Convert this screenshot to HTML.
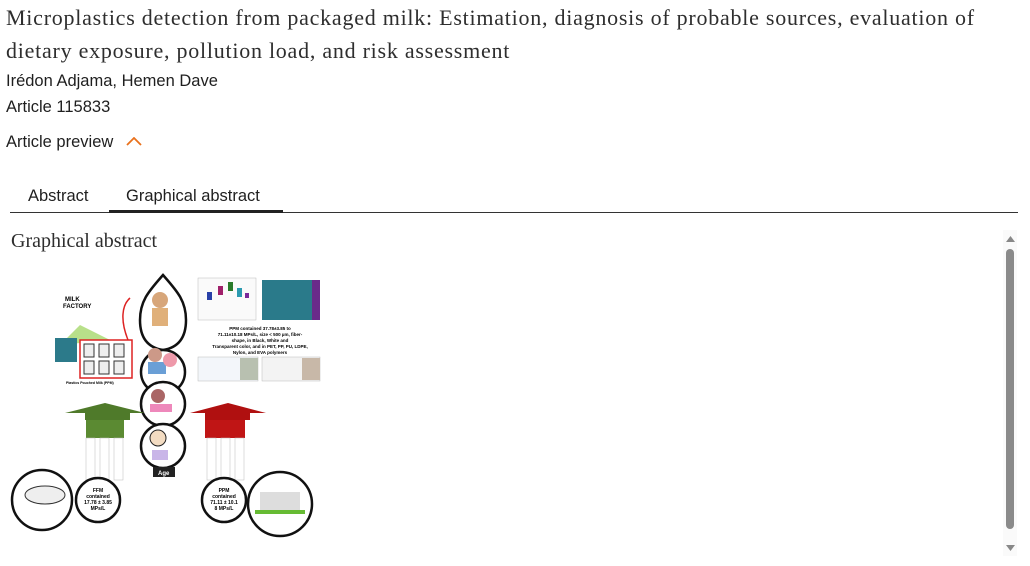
<!DOCTYPE html>
<html><head><meta charset="utf-8"><style>
body{margin:0;width:1030px;height:566px;background:#fff;position:relative;overflow:hidden;font-family:"Liberation Sans",sans-serif;color:#1f1f1f}
.a{position:absolute;white-space:nowrap}
.serif{font-family:"Liberation Serif",serif}
</style></head><body>
<div class="a serif" style="left:6px;top:1px;font-size:22px;letter-spacing:0.75px;line-height:33px;color:#2e2e2e">Microplastics detection from packaged milk: Estimation, diagnosis of probable sources, evaluation of<br>dietary exposure, pollution load, and risk assessment</div>
<div class="a" style="left:6px;top:72px;font-size:16.5px">Irédon Adjama, Hemen Dave</div>
<div class="a" style="left:6px;top:98px;font-size:16.5px">Article 115833</div>
<div class="a" style="left:6px;top:133px;font-size:16.5px">Article preview</div>
<svg class="a" style="left:126px;top:137px" width="16" height="10"><path d="M1 8 L8 1 L15 8" fill="none" stroke="#e9711c" stroke-width="1.8"/></svg>
<div class="a" style="left:28px;top:187px;font-size:16.5px">Abstract</div>
<div class="a" style="left:126px;top:187px;font-size:16.5px">Graphical abstract</div>
<div class="a" style="left:10px;top:212px;width:1008px;height:1px;background:#333"></div>
<div class="a" style="left:109px;top:210px;width:174px;height:3px;background:#222"></div>
<div class="a serif" style="left:11px;top:230px;font-size:20px;color:#2e2e2e">Graphical abstract</div>
<div class="a" style="left:1003px;top:230px;width:14px;height:326px;background:#fafafa"></div>
<div class="a" style="left:1006px;top:249px;width:8px;height:280px;background:#8a8a8a;border-radius:4px"></div>
<svg class="a" style="left:1006px;top:236px" width="9" height="6"><path d="M0 6L4.5 0L9 6Z" fill="#888"/></svg>
<svg class="a" style="left:1006px;top:545px" width="9" height="6"><path d="M0 0L4.5 6L9 0Z" fill="#888"/></svg>

<svg class="a" style="left:0;top:260px" width="340" height="290" font-family="Liberation Sans" font-weight="bold">
 <g fill="#fff" stroke="#111" stroke-width="2.5">
  <path d="M163 15 C150 30 140 40 140 60 C140 80 150 88 163 90 C176 88 186 80 186 60 C186 40 176 30 163 15Z"/>
  <circle cx="163" cy="112" r="22"/><circle cx="163" cy="144" r="22"/><circle cx="163" cy="186" r="22"/>
 </g>
 <rect x="153" y="207" width="22" height="10" fill="#222"/>
 <text x="158" y="215" font-size="6" fill="#fff">Age</text>
 <circle cx="160" cy="40" r="8" fill="#d7a67a"/><rect x="152" y="48" width="16" height="18" fill="#e0b07a"/>
 <circle cx="155" cy="95" r="7" fill="#c98"/><rect x="148" y="102" width="18" height="12" fill="#6a9fd6"/><circle cx="170" cy="100" r="7" fill="#e9a"/>
 <circle cx="158" cy="136" r="7" fill="#a66"/><rect x="150" y="144" width="22" height="8" fill="#e8b"/>
 <circle cx="158" cy="178" r="8" fill="#f3dcc2" stroke="#222"/><rect x="152" y="190" width="16" height="10" fill="#c9b5e8"/>
 <path d="M65 153 L105 143 L145 153 L130 153 L130 160 L85 160 L85 153Z" fill="#4f7a2a"/>
 <rect x="86" y="160" width="38" height="18" fill="#5b8a32"/>
 <path d="M190 153 L228 143 L266 153 L250 153 L250 160 L205 160 L205 153Z" fill="#b01010"/>
 <rect x="205" y="160" width="40" height="18" fill="#c01515"/>
 <g fill="#fff" stroke="#bbb" stroke-width="0.5">
  <rect x="86" y="178" width="9" height="42"/><rect x="100" y="178" width="9" height="42"/><rect x="114" y="178" width="9" height="42"/>
  <rect x="207" y="178" width="9" height="42"/><rect x="221" y="178" width="9" height="42"/><rect x="235" y="178" width="9" height="42"/>
 </g>
 <g fill="#fff" stroke="#111" stroke-width="2.5">
  <circle cx="42" cy="240" r="30"/><circle cx="98" cy="240" r="22"/>
  <circle cx="224" cy="240" r="22"/><circle cx="280" cy="244" r="32"/>
 </g>
 <text x="98" y="232" font-size="5" text-anchor="middle">FFM</text>
 <text x="98" y="238" font-size="5" text-anchor="middle">contained</text>
 <text x="98" y="244" font-size="5" text-anchor="middle">17.78 ± 3.85</text>
 <text x="98" y="250" font-size="5" text-anchor="middle">MPs/L</text>
 <text x="224" y="232" font-size="5" text-anchor="middle">PPM</text>
 <text x="224" y="238" font-size="5" text-anchor="middle">contained</text>
 <text x="224" y="244" font-size="5" text-anchor="middle">71.11 ± 10.1</text>
 <text x="224" y="250" font-size="5" text-anchor="middle">8 MPs/L</text>
 <ellipse cx="45" cy="235" rx="20" ry="9" fill="#eee" stroke="#333"/>
 <rect x="260" y="232" width="40" height="18" fill="#ddd"/><rect x="255" y="250" width="50" height="4" fill="#6b3"/>
 <text x="65" y="41" font-size="6">MILK</text><text x="63" y="48" font-size="6">FACTORY</text>
 <path d="M60 85 L80 65 L110 80 Z" fill="#b8e08a"/>
 <rect x="55" y="78" width="22" height="24" fill="#2c7a8a"/>
 <rect x="80" y="80" width="52" height="38" fill="#fff" stroke="#d22" stroke-width="1.5"/>
 <g fill="#eee" stroke="#333"><rect x="84" y="84" width="10" height="13"/><rect x="99" y="84" width="10" height="13"/><rect x="114" y="84" width="10" height="13"/><rect x="84" y="101" width="10" height="13"/><rect x="99" y="101" width="10" height="13"/><rect x="114" y="101" width="10" height="13"/></g>
 <path d="M128 80 C120 60 122 45 130 38" fill="none" stroke="#d22" stroke-width="1.5"/>
 <text x="66" y="124" font-size="3.5">Plastics Pouched Milk (PPM)</text>
 <rect x="198" y="18" width="58" height="42" fill="#fafafa" stroke="#bbb" stroke-width="0.5"/>
 <rect x="207" y="32" width="5" height="8" fill="#2840a8"/><rect x="218" y="26" width="5" height="9" fill="#a0206a"/><rect x="228" y="22" width="5" height="9" fill="#2a7a2a"/><rect x="237" y="28" width="5" height="9" fill="#2a9ab0"/><rect x="245" y="33" width="4" height="5" fill="#7a2a9a"/>
 <rect x="262" y="20" width="58" height="40" fill="#2a7a8a"/>
 <rect x="312" y="20" width="8" height="40" fill="#6a2a8a"/>
 <text x="260" y="70" font-size="4.5" text-anchor="middle">PPM contained 37.78±3.85 to</text>
 <text x="260" y="76" font-size="4.5" text-anchor="middle">71.11±10.18 MPs/L, size &lt; 500 µm, fiber-</text>
 <text x="260" y="82" font-size="4.5" text-anchor="middle">shape, in Black, White and</text>
 <text x="260" y="88" font-size="4.5" text-anchor="middle">Transparent color, and in PET, PP, PU, LDPE,</text>
 <text x="260" y="94" font-size="4.5" text-anchor="middle">Nylon, and EVA polymers</text>
 <rect x="198" y="97" width="60" height="24" fill="#f3f6fa" stroke="#bbb" stroke-width="0.5"/>
 <rect x="240" y="98" width="18" height="22" fill="#b8c0b0"/>
 <rect x="262" y="97" width="58" height="24" fill="#f3f3f3" stroke="#bbb" stroke-width="0.5"/>
 <rect x="302" y="98" width="18" height="22" fill="#c8b8a8"/>
</svg>
</body></html>
